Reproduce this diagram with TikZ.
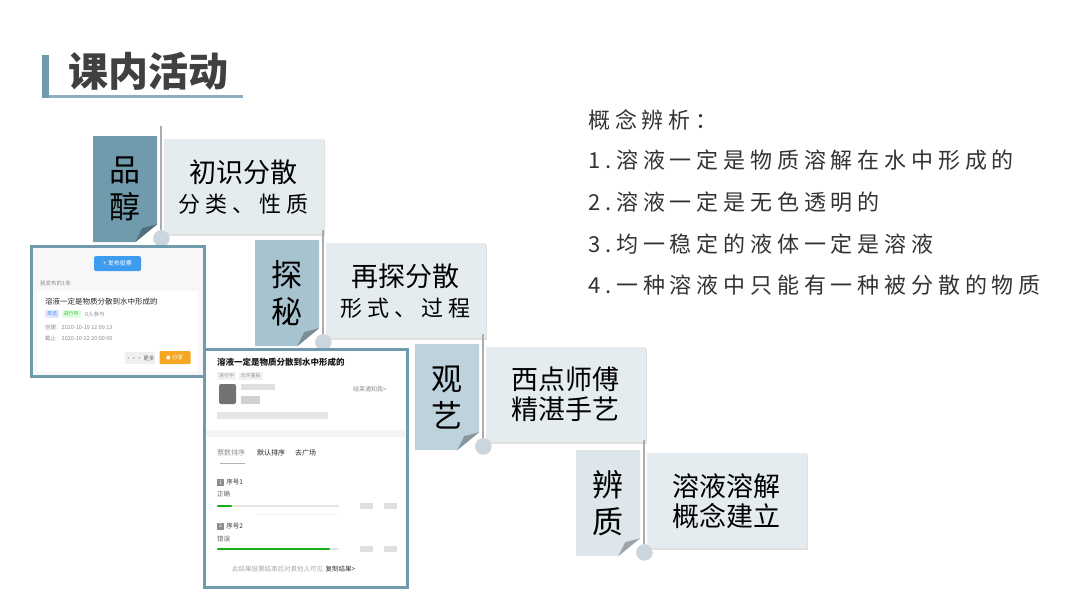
\documentclass[tikz,border=0pt]{standalone}
\usepackage{fontspec}
\setmainfont{Noto Sans CJK SC}
\newfontfamily\kai[LetterSpace=22]{Noto Sans CJK SC}
\usetikzlibrary{calc,positioning,shadows}

\definecolor{steel}{HTML}{6F9BAD}
\definecolor{rulecol}{HTML}{8DAFBF}
\definecolor{tagA}{HTML}{6F9BAD}
\definecolor{tagB}{HTML}{A7C3CF}
\definecolor{tagC}{HTML}{BDD2DC}
\definecolor{tagD}{HTML}{DCE6EB}
\definecolor{boxfill}{HTML}{E4ECF0}
\definecolor{dotfill}{HTML}{C9D6DE}
\definecolor{ink}{HTML}{333333}
\definecolor{uiblue}{HTML}{3D9BF0}
\definecolor{uigreen}{HTML}{1AAD19}
\definecolor{uiorange}{HTML}{F5A623}

\begin{document}
\begin{tikzpicture}[
  x=1pt,y=-1pt,
  tagbox/.style={minimum width=64pt,minimum height=106pt,inner sep=0pt,align=center,
    font=\fontsize{31pt}{37pt}\selectfont,
    path picture={
      \fill[#1] (path picture bounding box.north west) -- (path picture bounding box.north east)
        -- ($(path picture bounding box.south east)+(0pt,18pt)$)
        -- ($(path picture bounding box.south east)+(-22pt,0pt)$)
        -- (path picture bounding box.south west) -- cycle;
      \fill[#1!72!black] ($(path picture bounding box.south east)+(0pt,18pt)$)
        -- ($(path picture bounding box.south east)+(-22pt,0pt)$)
        -- ($(path picture bounding box.south east)+(-15pt,14pt)$) -- cycle;}},
  stepbox/.style={fill=boxfill,minimum width=160pt,minimum height=95pt,inner sep=0pt,align=center,
    font=\fontsize{27pt}{30pt}\selectfont,
    drop shadow={shadow xshift=1.5pt,shadow yshift=-1.5pt,opacity=0.25}},
  vline/.style={draw=gray!65,line width=2pt},
  dot/.style={circle,fill=dotfill,draw=gray!30,line width=0.6pt,minimum size=16pt,inner sep=0pt},
  shot/.style={draw=steel,line width=3pt},
  ui/.style={anchor=west,inner sep=0pt,text=#1},
  ui/.default=black!75,
  chip/.style args={#1/#2}{anchor=west,fill=#1,text=#2,inner xsep=2pt,inner ysep=1.5pt,
    font=\fontsize{5pt}{6pt}\selectfont},
  notes/.style={anchor=west,inner sep=0pt,text=ink,font=\kai\fontsize{22pt}{26pt}\selectfont},
]
\useasboundingbox[fill=white] (0,0) rectangle (1080,608);

% title
\fill[steel] (42,55) rectangle (49,98);
\fill[rulecol] (49,95) rectangle (243,98);
\node[inner sep=0pt,text=black!75,font=\bfseries\fontsize{40pt}{44pt}\selectfont] (title) at (148,71) {课内活动};

% step 1
\node[tagbox=tagA,anchor=north west] (t1) at (93,136) {品\\醇};
\coordinate (l1) at ($(t1.north east)+(4,-10)$);
\coordinate (e1) at ($(t1.south east)+(4,-4)$);
\draw[vline] (l1) -- (e1);
\node[stepbox,below right=3pt and 6pt of t1.north east] (b1) {初识分散\\{\kai\fontsize{22pt}{26pt}\selectfont 分类、性质}};
\node[dot] (c1) at (e1) {};

% step 2
\node[tagbox=tagB,anchor=north west] (t2) at (255,240) {探\\秘};
\coordinate (l2) at ($(t2.north east)+(4,-10)$);
\coordinate (e2) at ($(t2.south east)+(4,-4)$);
\draw[vline] (l2) -- (e2);
\node[stepbox,below right=3pt and 6pt of t2.north east] (b2) {再探分散\\{\kai\fontsize{22pt}{26pt}\selectfont 形式、过程}};
\node[dot] (c2) at (e2) {};

% step 3
\node[tagbox=tagC,anchor=north west] (t3) at (415,344) {观\\艺};
\coordinate (l3) at ($(t3.north east)+(4,-10)$);
\coordinate (e3) at ($(t3.south east)+(4,-4)$);
\draw[vline] (l3) -- (e3);
\node[stepbox,below right=3pt and 6pt of t3.north east] (b3) {西点师傅\\精湛手艺};
\node[dot] (c3) at (e3) {};

% step 4
\node[tagbox=tagD,anchor=north west] (t4) at (576,450) {辨\\质};
\coordinate (l4) at ($(t4.north east)+(4,-10)$);
\coordinate (e4) at ($(t4.south east)+(4,-4)$);
\draw[vline] (l4) -- (e4);
\node[stepbox,below right=3pt and 6pt of t4.north east] (b4) {溶液溶解\\概念建立};
\node[dot] (c4) at (e4) {};

% screenshot 1
\fill[black!3] (31,246) rectangle (204,376);
\fill[white] (37,291) rectangle (198,371);
\node[fill=uiblue,rounded corners=1.5pt,text=white,minimum width=47pt,minimum height=15pt,inner sep=0pt,
  font=\fontsize{6pt}{7pt}\selectfont] (s1btn) at (117.5,263.5) {+ 发布投票};
\node[ui=black!45,font=\fontsize{5.5pt}{6pt}\selectfont] (s1count) at (40,283) {我发布的1条};
\node[ui=black!85,font=\fontsize{7.5pt}{8pt}\selectfont] (s1ttl) at (45,302) {溶液一定是物质分散到水中形成的};
\node[chip={blue!10/uiblue}] (s1single) at (45,314) {单选};
\node[chip={green!12/uigreen!80},right=2pt of s1single] (s1live) {进行中};
\node[ui=black!45,font=\fontsize{5.5pt}{6pt}\selectfont,right=4pt of s1live] (s1join) {0人参与};
\node[ui=black!45,font=\fontsize{5.5pt}{6pt}\selectfont] (s1made) at (45,327) {创建：2020-10-19 12:09:13};
\node[ui=black!45,font=\fontsize{5.5pt}{6pt}\selectfont] (s1end) at (45,338) {截止：2020-10-22 20:00:00};
\node[fill=black!6,text=black!60,minimum width=30pt,minimum height=12pt,inner sep=0pt,
  font=\fontsize{5.5pt}{6pt}\selectfont] (s1more) at (140,358) {··· 更多};
\node[fill=uiorange,text=white,rounded corners=1pt,minimum width=31pt,minimum height=13pt,inner sep=0pt,
  font=\fontsize{5.5pt}{6pt}\selectfont] (s1share) at (175,357.5) {\hspace{5pt}分享};
\fill[white] ($(s1share.west)+(9,0)$) circle (2pt);
\draw[shot] (31,246) rectangle (204,376);

% screenshot 2
\fill[white] (204,349) rectangle (407,587);
\node[ui=black!90,font=\bfseries\fontsize{8.5pt}{9pt}\selectfont] (s2ttl) at (217,362) {溶液一定是物质分散到水中形成的};
\node[chip={black!5/black!40}] (s2live) at (217,376) {进行中};
\node[chip={black!5/black!40},right=2pt of s2live] (s2redo) {允许重投};
\fill[black!55,rounded corners=2pt] (219,384) rectangle (236,404);
\fill[black!12] (241,384) rectangle (275,390);
\fill[black!18] (241,396) rectangle (260,404);
\fill[black!10] (217,412) rectangle (328,419);
\node[ui=black!45,font=\fontsize{6pt}{7pt}\selectfont] (s2notify) at (353,389) {结束通知我>};
\fill[black!4] (205,430) rectangle (406,437);
\node[ui=black!45,font=\fontsize{7pt}{8pt}\selectfont] (s2votes) at (217,453) {票数排序};
\node[ui=black!85,font=\fontsize{7pt}{8pt}\selectfont] (s2default) at (257,453) {默认排序};
\node[ui=black!85,font=\fontsize{7pt}{8pt}\selectfont] (s2plaza) at (295,453) {去广场};
\draw[black!30,line width=1pt] (220,463) -- (245,463);
\node[fill=black!45,text=white,minimum size=7pt,inner sep=0pt,font=\fontsize{5pt}{5pt}\selectfont] (s2no1) at (220.5,482.5) {1};
\node[ui=black!80,font=\fontsize{6.5pt}{7pt}\selectfont,right=2pt of s2no1] (s2opt1) {序号1};
\node[ui=black!60,font=\fontsize{6.5pt}{7pt}\selectfont] (s2right) at (217,494) {正确};
\draw[black!10,line width=2.5pt,line cap=round] (218,506) -- (338,506);
\draw[uigreen,line width=2.5pt,line cap=round] (218,506) -- (231,506);
\fill[black!12] (360,503) rectangle (373,509);
\fill[black!12] (384,503) rectangle (397,509);
\draw[black!6] (257,514) -- (338,514);
\node[fill=black!45,text=white,minimum size=7pt,inner sep=0pt,font=\fontsize{5pt}{5pt}\selectfont] (s2no2) at (220.5,526) {2};
\node[ui=black!80,font=\fontsize{6.5pt}{7pt}\selectfont,right=2pt of s2no2] (s2opt2) {序号2};
\node[ui=black!60,font=\fontsize{6.5pt}{7pt}\selectfont] (s2wrong) at (217,539) {错误};
\draw[black!10,line width=2.5pt,line cap=round] (218,549) -- (338,549);
\draw[uigreen,line width=2.5pt,line cap=round] (218,549) -- (329,549);
\fill[black!12] (360,546) rectangle (373,552);
\fill[black!12] (384,546) rectangle (397,552);
\node[ui=black!35,font=\fontsize{6.5pt}{7pt}\selectfont] (s2foot) at (232,569) {此结果投票结束后对其他人可见};
\node[ui=black!80,font=\fontsize{6.5pt}{7pt}\selectfont,right=2pt of s2foot] (s2copy) {复制结果>};
\draw[shot] (204,349) rectangle (407,587);

% notes
\node[notes] (q0) at (588,120) {概念辨析：};
\node[notes] (q1) at (588,160) {1.溶液一定是物质溶解在水中形成的};
\node[notes] (q2) at (588,202) {2.溶液一定是无色透明的};
\node[notes] (q3) at (588,244) {3.均一稳定的液体一定是溶液};
\node[notes] (q4) at (588,285) {4.一种溶液中只能有一种被分散的物质};
\end{tikzpicture}
\end{document}
